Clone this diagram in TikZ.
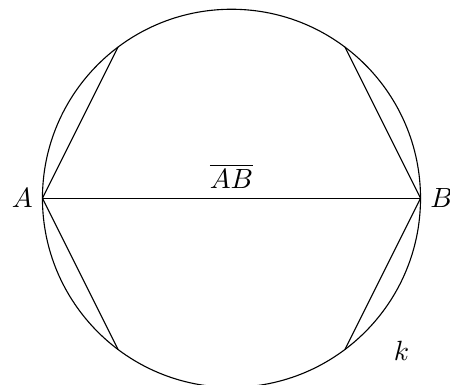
\documentclass[tikz,border=0pt]{standalone}
\begin{document}
\begin{tikzpicture}[seg/.style={draw=black,line width=0.4pt}]
\useasboundingbox (-83.27pt,-67.16pt) rectangle (78.6pt,71.33pt);
\coordinate (O) at (0,0);
\coordinate (A) at (-68pt,0);
\coordinate (B) at (68pt,0);
\coordinate (P1) at (-40.8pt,54.4pt);
\coordinate (P2) at (40.8pt,54.4pt);
\coordinate (P3) at (-40.8pt,-54.4pt);
\coordinate (P4) at (40.8pt,-54.4pt);
\draw[seg] (O) circle[radius=68pt];
\draw[seg] (A) -- node[above] {$\overline{AB}$} (B);
\draw[seg] (A) -- (P1);
\draw[seg] (A) -- (P3);
\draw[seg] (B) -- (P2);
\draw[seg] (B) -- (P4);
\node[left] (lA) at (A) {$A$};
\node[right] (lB) at (B) {$B$};
\node (lk) at (61.15pt,-54.9pt) {$k$};
\end{tikzpicture}
\end{document}
